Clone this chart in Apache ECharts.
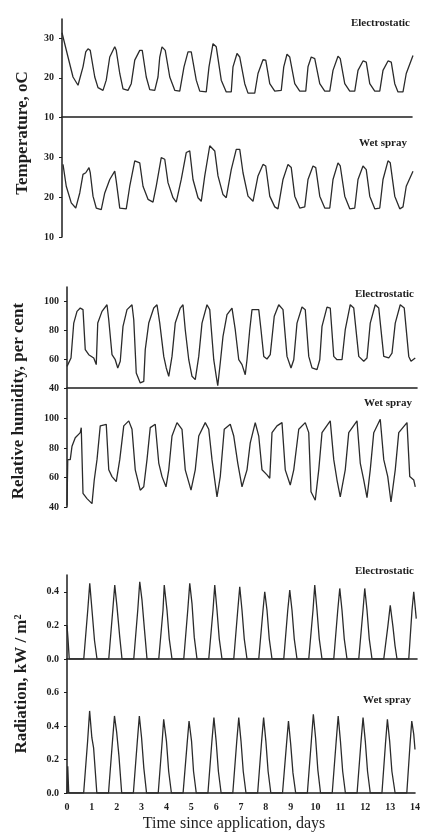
<!DOCTYPE html>
<html>
<head>
<meta charset="utf-8">
<style>
  html, body { margin: 0; padding: 0; background: #fff; }
  #chart { width: 423px; height: 832px; }
</style>
<script src="https://cdn.jsdelivr.net/npm/echarts@6/dist/echarts.min.js"></script>
</head>
<body>
<div id="chart"></div>
<script>
// [day, value] pairs
const tempElectro = [
  [0.00, 31.5], [0.04, 32.0], [0.24, 25.3], [0.44, 20.2], [0.64, 18.1], [0.84, 22.8], [0.95, 26.6], [1.04, 27.4], [1.13, 27.0],
  [1.31, 20.2], [1.44, 17.5], [1.64, 16.8], [1.77, 19.4], [1.91, 25.3], [2.11, 27.9], [2.17, 27.0],
  [2.31, 21.1], [2.44, 17.2], [2.64, 16.8], [2.77, 18.5], [2.91, 24.5], [3.11, 27.0], [3.21, 27.0],
  [3.37, 20.2], [3.51, 17.0], [3.71, 16.8], [3.84, 20.2], [3.91, 25.3], [4.00, 27.9], [4.13, 27.0],
  [4.31, 20.2], [4.51, 16.8], [4.71, 16.6], [4.88, 22.8], [5.04, 26.6], [5.17, 26.6],
  [5.37, 19.4], [5.51, 16.6], [5.77, 16.4], [5.88, 22.8], [6.04, 28.7], [6.17, 27.9],
  [6.37, 19.4], [6.57, 16.4], [6.77, 16.4], [6.84, 22.8], [7.00, 26.2], [7.11, 25.3],
  [7.31, 18.5], [7.44, 16.1], [7.71, 16.1], [7.84, 21.1], [8.04, 24.6], [8.15, 24.5],
  [8.31, 18.5], [8.51, 16.6], [8.77, 16.8], [8.87, 22.8], [9.00, 26.0], [9.11, 25.3],
  [9.31, 18.5], [9.51, 16.6], [9.75, 16.6], [9.84, 22.8], [9.97, 25.3], [10.11, 24.9],
  [10.31, 18.5], [10.51, 16.6], [10.71, 16.6], [10.84, 21.9], [11.04, 25.5], [11.13, 24.9],
  [11.31, 18.5], [11.51, 16.6], [11.71, 16.6], [11.84, 21.9], [12.04, 24.3], [12.17, 24.0],
  [12.31, 18.5], [12.51, 16.6], [12.71, 16.6], [12.84, 21.9], [13.04, 24.3], [13.17, 24.0],
  [13.31, 18.5], [13.44, 16.4], [13.64, 16.4], [13.77, 21.1], [14.04, 25.7]
]
const tempWet = [
  [0.04, 28.3], [0.17, 22.8], [0.37, 18.6], [0.55, 17.3], [0.71, 21.1], [0.84, 25.8], [0.95, 26.2], [1.08, 27.5], [1.13, 26.2],
  [1.24, 20.3], [1.37, 17.3], [1.57, 16.9], [1.71, 21.1], [1.91, 24.5], [2.11, 26.6], [2.17, 24.1],
  [2.31, 17.3], [2.57, 17.1], [2.71, 22.8], [2.91, 29.2], [3.11, 28.7],
  [3.24, 22.8], [3.44, 19.5], [3.64, 18.8], [3.77, 22.8], [3.97, 30.0], [4.11, 29.6],
  [4.24, 23.7], [4.44, 19.9], [4.57, 18.8], [4.77, 24.5], [4.97, 31.3], [5.11, 31.7],
  [5.24, 24.5], [5.44, 19.9], [5.57, 19.0], [5.71, 25.4], [5.91, 33.0], [6.11, 31.7],
  [6.24, 25.4], [6.44, 20.7], [6.57, 19.9], [6.77, 27.0], [6.97, 32.1], [7.11, 32.1],
  [7.24, 26.2], [7.44, 20.3], [7.64, 19.0], [7.84, 25.4], [8.04, 28.3], [8.15, 27.9],
  [8.31, 20.3], [8.51, 17.6], [8.64, 17.1], [8.84, 24.5], [9.04, 28.3], [9.17, 27.5],
  [9.31, 20.3], [9.51, 17.3], [9.71, 17.6], [9.84, 24.5], [10.04, 27.9], [10.15, 27.5],
  [10.31, 20.3], [10.51, 17.3], [10.71, 17.3], [10.84, 24.5], [11.04, 28.7], [11.13, 27.9],
  [11.31, 20.3], [11.51, 17.1], [11.71, 17.3], [11.84, 24.5], [12.04, 27.9], [12.17, 27.0],
  [12.31, 20.3], [12.51, 17.1], [12.71, 17.3], [12.84, 24.5], [13.04, 29.2], [13.13, 28.7],
  [13.31, 20.3], [13.51, 17.1], [13.64, 17.6], [13.77, 22.8], [14.04, 26.6]
]
const humElectro = [
  [0.00, 55.0], [0.07, 56.2], [0.16, 60.8], [0.27, 85.0], [0.40, 93.1], [0.53, 95.4], [0.64, 94.3],
  [0.73, 66.6], [0.87, 63.1], [1.07, 60.8], [1.17, 56.2], [1.23, 85.0], [1.40, 93.1], [1.60, 97.7], [1.67, 87.3],
  [1.80, 63.1], [1.93, 59.6], [2.03, 53.9], [2.13, 58.5], [2.24, 82.7], [2.40, 94.3], [2.60, 97.7], [2.67, 87.3],
  [2.77, 50.4], [2.93, 43.5], [3.07, 44.6], [3.13, 66.6], [3.27, 85.0], [3.47, 95.4], [3.60, 97.7], [3.71, 85.0],
  [3.87, 61.9], [3.97, 53.9], [4.07, 48.1], [4.20, 61.9], [4.33, 85.0], [4.53, 95.4], [4.64, 97.7], [4.73, 80.4],
  [4.87, 59.6], [5.00, 48.1], [5.13, 45.8], [5.27, 61.9], [5.40, 85.0], [5.60, 97.7], [5.71, 94.3],
  [5.87, 59.6], [5.97, 48.1], [6.03, 41.6], [6.13, 57.3], [6.24, 75.8], [6.40, 90.8], [6.60, 95.4], [6.73, 80.4],
  [6.87, 59.6], [7.00, 56.2], [7.13, 49.2], [7.20, 59.6], [7.31, 80.4], [7.40, 94.3], [7.67, 94.3], [7.76, 80.4],
  [7.87, 61.9], [8.00, 60.1], [8.13, 63.1], [8.29, 89.7], [8.47, 97.7], [8.64, 94.3],
  [8.80, 61.9], [8.96, 53.9], [9.07, 59.6], [9.20, 85.0], [9.40, 96.1], [9.53, 94.3],
  [9.67, 61.9], [9.80, 53.9], [10.00, 52.7], [10.11, 59.6], [10.20, 82.7], [10.40, 96.1], [10.53, 95.4],
  [10.67, 61.9], [10.80, 59.6], [11.00, 59.6], [11.13, 80.4], [11.33, 97.7], [11.47, 95.4],
  [11.67, 61.9], [11.87, 58.5], [12.00, 60.8], [12.13, 85.0], [12.33, 97.7], [12.47, 95.4],
  [12.67, 61.9], [12.87, 60.8], [13.00, 64.2], [13.13, 85.0], [13.33, 97.7], [13.49, 95.4],
  [13.67, 61.9], [13.76, 58.5], [13.93, 60.8]
]
const humWet = [
  [0.00, 41.1], [0.03, 72.1], [0.13, 72.1], [0.20, 81.2], [0.33, 86.9], [0.53, 90.4], [0.57, 93.8],
  [0.64, 49.2], [0.80, 45.7], [1.00, 42.3], [1.09, 58.3], [1.20, 72.1], [1.33, 95.0], [1.57, 96.1],
  [1.67, 65.2], [1.80, 60.6], [1.97, 57.2], [2.11, 72.1], [2.27, 95.0], [2.47, 98.4], [2.60, 92.7],
  [2.73, 65.2], [2.93, 51.4], [3.07, 53.7], [3.20, 72.1], [3.33, 93.8], [3.53, 96.1],
  [3.67, 69.8], [3.80, 60.6], [3.96, 53.7], [4.07, 65.2], [4.20, 88.1], [4.40, 97.2], [4.60, 92.7],
  [4.73, 65.2], [4.96, 51.4], [5.13, 65.2], [5.27, 88.1], [5.53, 97.2], [5.67, 92.7],
  [5.80, 72.1], [6.00, 46.9], [6.13, 60.6], [6.29, 92.7], [6.53, 96.1], [6.67, 88.1],
  [6.83, 69.8], [7.00, 53.7], [7.20, 65.2], [7.33, 83.5], [7.53, 97.2], [7.67, 88.1],
  [7.80, 65.2], [8.00, 61.8], [8.11, 59.5], [8.20, 90.4], [8.40, 95.0], [8.60, 97.2],
  [8.73, 65.2], [8.93, 54.9], [9.07, 65.2], [9.27, 92.7], [9.53, 97.2], [9.67, 90.4],
  [9.76, 50.3], [9.93, 44.6], [10.07, 65.2], [10.20, 90.4], [10.53, 98.4],
  [10.67, 72.1], [10.80, 58.3], [10.93, 46.9], [11.13, 65.2], [11.27, 90.4], [11.60, 98.4],
  [11.73, 69.8], [11.87, 58.3], [12.00, 46.4], [12.13, 65.2], [12.27, 90.4], [12.53, 99.5],
  [12.67, 72.1], [12.83, 60.6], [12.96, 43.4], [13.13, 65.2], [13.27, 90.4], [13.60, 97.2],
  [13.71, 60.6], [13.87, 58.3], [13.93, 53.7]
]
const radElectro = [
  [0.00, 0.20], [0.04, 0.12], [0.09, 0.00],
  [0.67, 0.00], [0.83, 0.29], [0.91, 0.45], [1.00, 0.29], [1.10, 0.11], [1.20, 0.00],
  [1.67, 0.00], [1.83, 0.29], [1.91, 0.44], [2.00, 0.31], [2.11, 0.13], [2.20, 0.00],
  [2.67, 0.00], [2.83, 0.29], [2.91, 0.46], [3.00, 0.35], [3.09, 0.19], [3.20, 0.00],
  [3.67, 0.00], [3.84, 0.29], [3.89, 0.44], [4.00, 0.29], [4.09, 0.12], [4.20, 0.00],
  [4.67, 0.00], [4.83, 0.29], [4.91, 0.45], [5.00, 0.33], [5.09, 0.13], [5.20, 0.00],
  [5.67, 0.00], [5.84, 0.29], [5.91, 0.44], [6.00, 0.29], [6.09, 0.12], [6.20, 0.00],
  [6.67, 0.00], [6.83, 0.29], [6.91, 0.43], [7.00, 0.29], [7.09, 0.12], [7.20, 0.00],
  [7.67, 0.00], [7.84, 0.29], [7.91, 0.40], [8.00, 0.29], [8.09, 0.12], [8.20, 0.00],
  [8.67, 0.00], [8.83, 0.29], [8.91, 0.41], [9.00, 0.29], [9.09, 0.12], [9.20, 0.00],
  [9.67, 0.00], [9.84, 0.29], [9.91, 0.44], [10.00, 0.29], [10.09, 0.12], [10.20, 0.00],
  [10.67, 0.00], [10.83, 0.29], [10.91, 0.42], [11.00, 0.29], [11.09, 0.12], [11.20, 0.00],
  [11.67, 0.00], [11.84, 0.29], [11.91, 0.42], [12.00, 0.29], [12.09, 0.12], [12.20, 0.00],
  [12.67, 0.00], [12.83, 0.19], [12.93, 0.32], [13.04, 0.19], [13.12, 0.08], [13.20, 0.00],
  [13.67, 0.00], [13.80, 0.29], [13.87, 0.40], [13.97, 0.24]
]
const radWet = [
  [0.00, 0.00], [0.03, 0.16], [0.07, 0.00],
  [0.67, 0.00], [0.83, 0.31], [0.91, 0.49], [1.00, 0.33], [1.07, 0.27], [1.20, 0.00],
  [1.67, 0.00], [1.83, 0.31], [1.91, 0.46], [2.00, 0.36], [2.09, 0.22], [2.20, 0.00],
  [2.67, 0.00], [2.83, 0.31], [2.91, 0.46], [3.00, 0.33], [3.09, 0.15], [3.20, 0.00],
  [3.67, 0.00], [3.83, 0.31], [3.89, 0.44], [4.00, 0.31], [4.09, 0.13], [4.20, 0.00],
  [4.67, 0.00], [4.83, 0.29], [4.91, 0.43], [5.01, 0.31], [5.09, 0.13], [5.20, 0.00],
  [5.67, 0.00], [5.83, 0.31], [5.91, 0.45], [6.00, 0.31], [6.09, 0.13], [6.20, 0.00],
  [6.67, 0.00], [6.83, 0.31], [6.91, 0.45], [7.00, 0.31], [7.09, 0.13], [7.20, 0.00],
  [7.67, 0.00], [7.83, 0.31], [7.91, 0.45], [8.00, 0.31], [8.09, 0.13], [8.20, 0.00],
  [8.67, 0.00], [8.83, 0.29], [8.91, 0.43], [9.00, 0.29], [9.09, 0.12], [9.20, 0.00],
  [9.67, 0.00], [9.83, 0.31], [9.91, 0.47], [10.00, 0.33], [10.09, 0.14], [10.20, 0.00],
  [10.67, 0.00], [10.83, 0.31], [10.91, 0.46], [11.00, 0.31], [11.09, 0.13], [11.20, 0.00],
  [11.67, 0.00], [11.83, 0.31], [11.91, 0.45], [12.00, 0.31], [12.09, 0.13], [12.20, 0.00],
  [12.67, 0.00], [12.81, 0.29], [12.89, 0.44], [12.98, 0.31], [13.07, 0.13], [13.20, 0.00],
  [13.67, 0.00], [13.80, 0.29], [13.87, 0.43], [13.95, 0.35], [14.00, 0.26]
]

const panelLabels = ['Electrostatic', 'Wet spray']
const yTitles = ['Temperature, oC', 'Relative humidity, per cent', 'Radiation, kW / m²']
const xTitle = 'Time since application, days'

const ink = '#1e1e1e'
const serif = '"Liberation Serif", "DejaVu Serif", serif'

const chart = echarts.init(document.getElementById('chart'))

// one grid per sub panel; the wet spray panel sits right below its electrostatic partner
const grids = [
  { left: 62, top: 19, width: 350, height: 98 },
  { left: 62, top: 118, width: 350, height: 119 },
  { left: 67, top: 287, width: 350, height: 101 },
  { left: 67, top: 389, width: 350, height: 118 },
  { left: 67, top: 575, width: 350, height: 84 },
  { left: 67, top: 659, width: 350, height: 134 }
]
const yRanges = [
  { min: 10, max: 35, interval: 10 },
  { min: 10, max: 40, interval: 10 },
  { min: 40, max: 110, interval: 20 },
  { min: 40, max: 120, interval: 20 },
  { min: 0, max: 0.5, interval: 0.2 },
  { min: 0, max: 0.8, interval: 0.2 }
]
const xLineShown = [true, false, true, false, true, true]
const seriesData = [tempElectro, tempWet, humElectro, humWet, radElectro, radWet]

const xAxes = grids.map((g, i) => ({
  gridIndex: i,
  type: 'value',
  min: 0,
  max: 14,
  interval: 1,
  axisLine: { show: xLineShown[i], lineStyle: { color: ink, width: 1.6 } },
  axisTick: { show: false },
  splitLine: { show: false },
  axisLabel: {
    show: i === 5,
    margin: 9,
    color: ink,
    fontFamily: serif,
    fontWeight: 'bold',
    fontSize: 10
  }
}))

const yAxes = yRanges.map((r, i) => ({
  gridIndex: i,
  type: 'value',
  min: r.min,
  max: r.max,
  interval: r.interval,
  axisLine: { show: true, lineStyle: { color: ink, width: 1.5 } },
  axisTick: { show: true, length: 3, lineStyle: { color: ink } },
  splitLine: { show: false },
  axisLabel: {
    showMaxLabel: false,
    margin: 8,
    color: ink,
    fontFamily: serif,
    fontWeight: 'bold',
    fontSize: 10,
    formatter: (v) => (i >= 4 ? v.toFixed(1) : String(v))
  }
}))

const series = seriesData.map((d, i) => ({
  type: 'line',
  xAxisIndex: i,
  yAxisIndex: i,
  data: d,
  symbol: 'none',
  smooth: false,
  lineStyle: { color: '#2b2b2b', width: 1.3 }
}))

const labelPos = [
  [410, 23], [407, 143], [414, 294], [412, 403], [414, 571], [411, 700]
]
const labelText = labelPos.map((p, i) => ({
  type: 'text',
  x: p[0],
  y: p[1],
  style: {
    text: panelLabels[i % 2],
    font: 'bold 11px ' + serif,
    fill: ink,
    align: 'right',
    verticalAlign: 'middle',
    textAlign: 'right',
    textVerticalAlign: 'middle'
  }
}))

const titlePos = [[23, 133], [19, 401], [22, 684]]
const titleText = titlePos.map((p, i) => ({
  type: 'text',
  x: p[0],
  y: p[1],
  rotation: Math.PI / 2,
  style: {
    text: yTitles[i],
    font: 'bold 17px ' + serif,
    fill: ink,
    align: 'center',
    verticalAlign: 'middle',
    textAlign: 'center',
    textVerticalAlign: 'middle'
  }
}))

const option = {
  animation: false,
  backgroundColor: '#fff',
  grid: grids,
  xAxis: xAxes,
  yAxis: yAxes,
  series: series,
  graphic: labelText.concat(titleText).concat([{
    type: 'text',
    x: 234,
    y: 824,
    style: {
      text: xTitle,
      font: '16px ' + serif,
      fill: ink,
      align: 'center',
      verticalAlign: 'middle',
      textAlign: 'center',
      textVerticalAlign: 'middle'
    }
  }])
}

chart.setOption(option)
</script>
</body>
</html>
